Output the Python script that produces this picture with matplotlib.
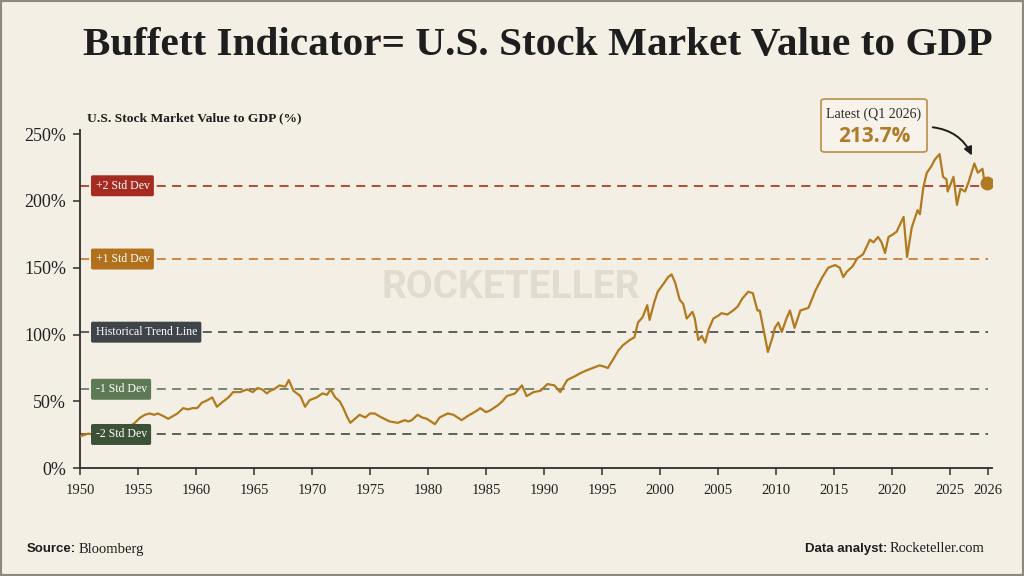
import matplotlib
matplotlib.use('Agg')
import matplotlib.pyplot as plt
from matplotlib.patches import FancyBboxPatch, Rectangle
from matplotlib.transforms import blended_transform_factory

# ---------------- data (x positions follow the chart's own year axis) ----------------
years = [1950.0, 1950.4, 1950.7, 1951.2, 1951.8, 1952.5, 1953.2, 1953.8, 1954.3, 1954.6,
         1955.2, 1955.6, 1956.0, 1956.4, 1956.7, 1957.2, 1957.6, 1958.0, 1958.4, 1958.9,
         1959.3, 1959.7, 1960.1, 1960.5, 1961.0, 1961.4, 1961.8, 1962.2, 1962.8, 1963.2,
         1963.8, 1964.4, 1964.9, 1965.3, 1965.7, 1966.1, 1966.4, 1966.7, 1967.2, 1967.7,
         1968.0, 1968.4, 1969.0, 1969.4, 1969.8, 1970.4, 1970.9, 1971.3, 1971.6, 1972.0,
         1972.4, 1972.7, 1973.0, 1973.3, 1973.7, 1974.1, 1974.6, 1975.0, 1975.4, 1976.0,
         1976.7, 1977.4, 1978.0, 1978.3, 1978.6, 1979.1, 1979.5, 1979.9, 1980.6, 1981.0,
         1981.7, 1982.2, 1982.9, 1983.4, 1984.2, 1984.5, 1985.0, 1985.3, 1986.0, 1986.4,
         1986.8, 1987.5, 1988.1, 1988.5, 1989.1, 1989.7, 1990.3, 1990.9, 1991.4, 1992.0,
         1992.7, 1993.1, 1993.6, 1994.2, 1994.8, 1995.2, 1995.5, 1996.0, 1996.4, 1996.8,
         1997.4, 1997.8, 1998.1, 1998.5, 1998.9, 1999.1, 1999.5, 1999.8, 2000.3, 2000.7,
         2001.0, 2001.3, 2001.7, 2002.0, 2002.3, 2002.8, 2003.0, 2003.3, 2003.6, 2003.9,
         2004.2, 2004.6, 2005.0, 2005.3, 2005.8, 2006.3, 2006.7, 2007.1, 2007.6, 2008.0,
         2008.4, 2008.6, 2008.9, 2009.3, 2009.7, 2009.9, 2010.2, 2010.5, 2010.9, 2011.2,
         2011.6, 2012.1, 2012.8, 2013.4, 2014.0, 2014.5, 2015.1, 2015.5, 2015.8, 2016.1,
         2016.6, 2017.0, 2017.5, 2018.1, 2018.4, 2018.8, 2019.1, 2019.4, 2019.7, 2020.1,
         2020.4, 2021.0, 2021.3, 2021.7, 2022.2, 2022.4, 2022.7, 2023.0, 2023.4, 2023.7,
         2024.1, 2024.4, 2024.7, 2024.8, 2025.3, 2025.6, 2025.9, 2026.3, 2026.6, 2027.1,
         2027.4, 2027.8, 2027.9, 2028.2]
values = [24, 25, 26, 25, 27, 28, 27, 30, 32, 33,
          38, 40, 41, 40, 41, 39, 37, 39, 41, 45,
          44, 45, 45, 49, 51, 53, 46, 49, 53, 57,
          57, 59, 57, 60, 59, 56, 58, 59, 62, 61,
          66, 58, 54, 46, 51, 53, 56, 55, 59, 53,
          50, 45, 39, 34, 37, 40, 38, 41, 41, 38,
          35, 34, 36, 35, 36, 40, 38, 37, 33, 38,
          41, 40, 36, 39, 43, 45, 42, 43, 47, 50,
          54, 56, 62, 54, 57, 58, 63, 62, 57, 66,
          69, 71, 73, 75, 77, 76, 75, 82, 88, 92,
          96, 98, 109, 113, 122, 111, 124, 132, 138, 143,
          145, 139, 126, 123, 112, 117, 112, 96, 99, 94,
          104, 112, 114, 116, 115, 118, 121, 127, 132, 131,
          118, 118, 105, 87, 98, 105, 109, 102, 112, 118,
          105, 118, 120, 133, 143, 150, 152, 150, 143, 147,
          151, 157, 160, 171, 169, 173, 169, 161, 173, 175,
          177, 188, 158, 180, 193, 190, 210, 221, 226, 231,
          235, 218, 216, 207, 218, 197, 209, 207, 214, 228,
          221, 224, 218, 213.7]

tick_positions = [1950, 1955, 1960, 1965, 1970, 1975, 1980, 1985, 1990, 1995,
                  2000, 2005, 2010, 2015, 2020, 2025, 2028.3]
tick_labels = ['1950', '1955', '1960', '1965', '1970', '1975', '1980', '1985', '1990', '1995',
               '2000', '2005', '2010', '2015', '2020', '2025', '2026']
y_ticks = [0, 50, 100, 150, 200, 250]
y_tick_labels = ['0%', '50%', '100%', '150%', '200%', '250%']

band_names = ['+2 Std Dev', '+1 Std Dev', 'Historical Trend Line', '-1 Std Dev', '-2 Std Dev']
band_values = [211.3, 156.5, 101.8, 59.1, 25.3]

latest_label = 'Latest (Q1 2026)'
latest_value = 213.7

title = 'Buffett Indicator= U.S. Stock Market Value to GDP'
y_title = 'U.S. Stock Market Value to GDP (%)'

# ---------------- styling ----------------
BG = '#F4EFE4'
LINE = '#B27A1E'
band_line_colors = ['#B8392C', '#CB7F3A', '#4E5358', '#6C7F6C', '#4A5A48']
band_box_colors = ['#A52A20', '#B0701C', '#3E444A', '#5E7A55', '#3C5236']
SERIF = ['Liberation Serif', 'DejaVu Serif']
SANS = ['Liberation Sans', 'DejaVu Sans']

fig = plt.figure(figsize=(10.24, 5.76), dpi=100, facecolor=BG)
W, H = 1024, 576

x0_px, x1_px = 80, 992
y0_px, y1_px = 468.3, 130
ax = fig.add_axes([x0_px / W, (H - y0_px) / H, (x1_px - x0_px) / W, (y0_px - y1_px) / H])
ax.set_facecolor('none')
ax.set_xlim(1950, 1950 + (x1_px - x0_px) / 11.6)
ax.set_ylim(0, 253)

for s in ['top', 'right']:
    ax.spines[s].set_visible(False)
for s in ['left', 'bottom']:
    ax.spines[s].set_color('#2E2E2E')
    ax.spines[s].set_linewidth(1.3)

ax.set_xticks(tick_positions)
ax.set_xticklabels(tick_labels, family=SERIF, fontsize=10.5, color='#222222')
ax.set_yticks(y_ticks)
ax.set_yticklabels(y_tick_labels, family=SERIF, fontsize=13, color='#222222')
ax.tick_params(axis='both', direction='out', length=5, width=1.1, color='#2E2E2E')
ax.tick_params(axis='x', pad=6)
ax.tick_params(axis='y', pad=5)

# reference bands
trans = blended_transform_factory(ax.transAxes, ax.transData)
for name, val, lc, bc in zip(band_names, band_values, band_line_colors, band_box_colors):
    ax.axhline(val, xmin=0, xmax=(988 - x0_px) / (x1_px - x0_px), color=lc, lw=1.3,
               ls=(0, (5, 3.5)), zorder=2)
    ax.text(0.017, val, name, transform=trans, ha='left', va='center',
            family=SERIF, fontsize=8.5, color='white', zorder=6,
            bbox=dict(boxstyle='round,pad=0.38,rounding_size=0.15', fc=bc, ec='none'))

# main series
ax.plot(years, values, color=LINE, lw=1.6, zorder=4, solid_joinstyle='round')
ax.plot(years[-1], values[-1], 'o', ms=9, color='#B07A22', zorder=7)

# watermark
fig.text(0.499, 0.5, 'ROCKETELLER', ha='center', va='center', fontsize=28,
         family=['Roboto', 'DejaVu Sans'], weight='bold', color='#DDD7CB', alpha=0.8, zorder=1)

# title & axis title
fig.text(538 / W, 1 - 45 / H, title, ha='center', va='center',
         family=SERIF, weight='bold', fontsize=29.7, color='#1E1E1E')
fig.text(87 / W, 1 - 118 / H, y_title, ha='left', va='center',
         family=SERIF, weight='bold', fontsize=9.7, color='#1E1E1E')

# latest annotation box
bx0, bx1, by0, by1 = 821, 927, 99, 152
box = FancyBboxPatch((bx0 / W, 1 - by1 / H), (bx1 - bx0) / W, (by1 - by0) / H,
                     boxstyle='round,pad=0,rounding_size=0.004', transform=fig.transFigure,
                     fc='#F7F3EA', ec='#BD9656', lw=1.3, zorder=8)
fig.patches.append(box)
fig.text((bx0 + bx1) / 2 / W, 1 - 114 / H, latest_label, ha='center', va='center',
         family=SERIF, fontsize=10, color='#2A2A2A', zorder=9)
fig.text((bx0 + bx1) / 2 / W, 1 - 136 / H, f'{latest_value:.1f}%', ha='center', va='center',
         family=['Open Sans', 'DejaVu Sans'], weight='bold', fontsize=15, color='#AF7B2A', zorder=9)
ax.annotate('', xy=(973, H - 158), xycoords='figure pixels',
            xytext=(930, H - 127), textcoords='figure pixels',
            arrowprops=dict(arrowstyle='-|>', color='#1E1E1E', lw=1.4,
                            connectionstyle='arc3,rad=-0.3', mutation_scale=12),
            annotation_clip=False, zorder=9)

# footer
renderer = fig.canvas.get_renderer()
t1 = fig.text(27 / W, 1 - 549 / H, 'Source:', ha='left', va='center',
              family=SANS, weight='bold', fontsize=9.5, color='#1E1E1E')
bb = t1.get_window_extent(renderer)
fig.text((bb.x1 + 2) / W, 1 - 549 / H, 'Bloomberg', ha='left', va='center',
         family=SERIF, fontsize=10.5, color='#1E1E1E')
t2 = fig.text(984 / W, 1 - 549 / H, 'Rocketeller.com', ha='right', va='center',
              family=SERIF, fontsize=10.5, color='#1E1E1E')
bb2 = t2.get_window_extent(renderer)
fig.text((bb2.x0 - 2) / W, 1 - 549 / H, 'Data analyst:', ha='right', va='center',
         family=SANS, weight='bold', fontsize=9.5, color='#1E1E1E')

# border
fig.patches.append(Rectangle((0, 0), 1, 1, transform=fig.transFigure, fill=False,
                             ec='#8E897F', lw=3, zorder=10))

fig.savefig('out.png', dpi=100, facecolor=BG)
